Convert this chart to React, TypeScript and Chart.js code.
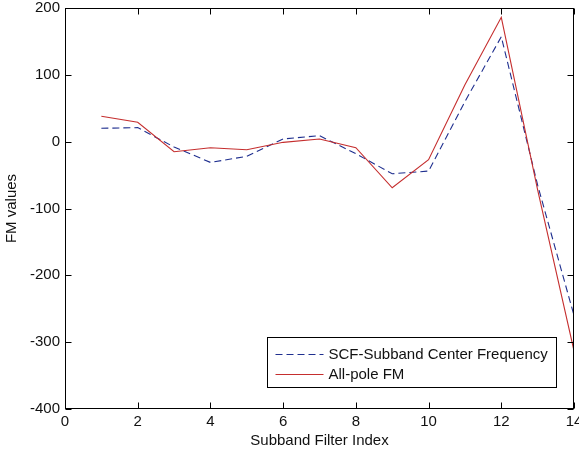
import React, { useEffect, useRef } from 'react';
import { Chart, registerables } from 'chart.js';

Chart.register(...registerables);

const subbandIndex = [1, 2, 3, 4, 5, 6, 7, 8, 9, 10, 11, 12, 13, 14];
const scfValues = [20, 21, -8, -31, -22, 4, 9, -18, -48, -44, 60, 157, -65, -260];
const allPoleValues = [38, 29, -15, -9, -12, -1, 4, -9, -69, -27, 85, 186, -72, -313];
const seriesLabels = ['SCF-Subband Center Frequency', 'All-pole FM'];
const xAxisTitle = 'Subband Filter Index';
const yAxisTitle = 'FM values';

const FONT = '"Liberation Sans", Arial, Helvetica, sans-serif';
const BLUE = '#1f2f8f';
const RED = '#c52e2e';
const DASH = [7, 4];

const framePlugin = {
  id: 'matlabFrame',
  afterDraw(chart: any) {
    const { ctx, chartArea: a, scales } = chart;
    ctx.save();
    ctx.strokeStyle = '#000';
    ctx.lineWidth = 1;
    const L = Math.round(a.left) + 0.5;
    const R = Math.round(a.right) - 0.5;
    const T = Math.round(a.top) + 0.5;
    const B = Math.round(a.bottom) - 0.5;
    ctx.strokeRect(L, T, R - L, B - T);
    const len = 6;
    ctx.beginPath();
    scales.x.ticks.forEach((t: any) => {
      const px = Math.round(scales.x.getPixelForValue(t.value)) + 0.5;
      ctx.moveTo(px, B); ctx.lineTo(px, B - len);
      ctx.moveTo(px, T); ctx.lineTo(px, T + len);
    });
    scales.y.ticks.forEach((t: any) => {
      const py = Math.round(scales.y.getPixelForValue(t.value)) + 0.5;
      ctx.moveTo(L, py); ctx.lineTo(L + len, py);
      ctx.moveTo(R, py); ctx.lineTo(R - len, py);
    });
    ctx.stroke();

    // legend box (inside, bottom right)
    ctx.font = `15px ${FONT}`;
    const ds = chart.data.datasets;
    const textW = Math.max(...ds.map((d: any) => ctx.measureText(d.label).width));
    const padL = 8, sample = 48, gap = 5, padR = 9;
    const boxW = Math.round(padL + sample + gap + textW + padR);
    const boxH = 50;
    const bx = Math.round(a.right - 18 - boxW) + 0.5;
    const by = Math.round(a.bottom - 22 - boxH) + 0.5;
    ctx.fillStyle = '#fff';
    ctx.fillRect(bx, by, boxW, boxH);
    ctx.strokeStyle = '#000';
    ctx.strokeRect(bx, by, boxW, boxH);
    const rows = [by + 16, by + 36];
    ds.forEach((d: any, i: number) => {
      const y = Math.round(rows[i]) + 0.5;
      ctx.save();
      ctx.strokeStyle = d.borderColor;
      ctx.lineWidth = 1;
      ctx.setLineDash(d.borderDash || []);
      ctx.beginPath();
      ctx.moveTo(bx + padL, y);
      ctx.lineTo(bx + padL + sample, y);
      ctx.stroke();
      ctx.restore();
      ctx.fillStyle = '#111';
      ctx.textBaseline = 'middle';
      ctx.textAlign = 'left';
      ctx.fillText(d.label, bx + padL + sample + gap, y);
    });
    ctx.restore();
  },
};

export default function App() {
  const ref = useRef<HTMLCanvasElement>(null);
  useEffect(() => {
    if (!ref.current) return;
    const chart = new Chart(ref.current, {
      type: 'line',
      data: {
        datasets: [
          {
            label: seriesLabels[0],
            data: subbandIndex.map((x, i) => ({ x, y: scfValues[i] })),
            borderColor: BLUE,
            borderWidth: 1.1,
            borderDash: DASH,
            pointRadius: 0,
            fill: false,
            tension: 0,
            order: 1,
          },
          {
            label: seriesLabels[1],
            data: subbandIndex.map((x, i) => ({ x, y: allPoleValues[i] })),
            borderColor: RED,
            borderWidth: 1.1,
            pointRadius: 0,
            fill: false,
            tension: 0,
            order: 0,
          },
        ],
      },
      options: {
        responsive: false,
        animation: false,
        layout: { padding: { top: 8, right: 5, left: 0, bottom: 0 } },
        plugins: {
          legend: { display: false },
          tooltip: { enabled: false },
        },
        scales: {
          x: {
            type: 'linear',
            min: 0,
            max: 14,
            grid: { display: false, drawTicks: false },
            border: { display: false },
            ticks: {
              stepSize: 2,
              padding: 4,
              maxRotation: 0,
              color: '#111',
              font: { family: FONT, size: 15 },
            },
            title: {
              display: true,
              text: xAxisTitle,
              color: '#111',
              font: { family: FONT, size: 15 },
              padding: { top: 0, bottom: 7 },
            },
            afterFit: (s: any) => {
              s.height = 48;
              s.paddingLeft = 0;
              s.paddingRight = 0;
            },
          },
          y: {
            type: 'linear',
            min: -400,
            max: 200,
            grid: { display: false, drawTicks: false },
            border: { display: false },
            ticks: {
              stepSize: 100,
              padding: 5,
              color: '#111',
              font: { family: FONT, size: 15 },
            },
            title: {
              display: true,
              text: yAxisTitle,
              color: '#111',
              font: { family: FONT, size: 15 },
              padding: { top: 3, bottom: 0 },
            },
            afterFit: (s: any) => {
              s.width = 65;
              s.paddingTop = 0;
              s.paddingBottom = 0;
            },
          },
        },
      },
      plugins: [framePlugin],
    });
    return () => chart.destroy();
  }, []);
  return (
    <div style={{ position: 'fixed', left: 0, top: 0, width: 579, height: 457, background: '#fff' }}>
      <canvas ref={ref} width={579} height={457} />
    </div>
  );
}
